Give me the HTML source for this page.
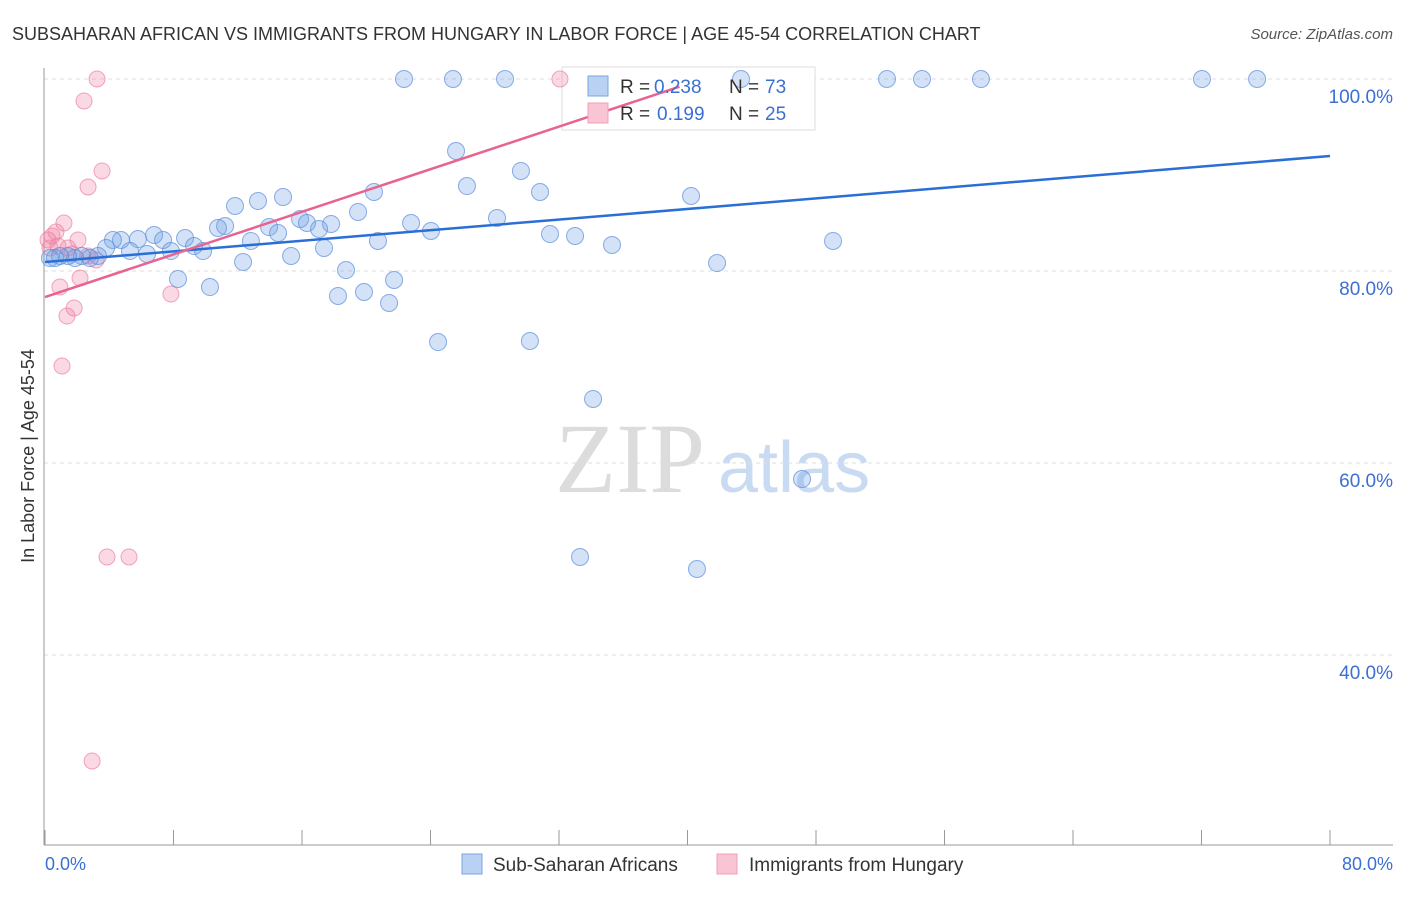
<!DOCTYPE html>
<html><head><meta charset="utf-8"><style>
body{margin:0;background:#fff;font-family:"Liberation Sans",sans-serif;}
</style></head><body>
<svg id="chart" width="1406" height="892" xmlns="http://www.w3.org/2000/svg" font-family="Liberation Sans, sans-serif">
<text x="12" y="40" font-size="18" fill="#333">SUBSAHARAN AFRICAN VS IMMIGRANTS FROM HUNGARY IN LABOR FORCE | AGE 45-54 CORRELATION CHART</text>
<text x="1393" y="39" font-size="15" fill="#555" text-anchor="end" font-style="italic">Source: ZipAtlas.com</text>
<g>
<text x="555" y="492" font-family="Liberation Serif, serif" font-size="100" fill="#dcdcdc">ZIP</text>
<text x="718" y="492" font-size="72" fill="#c9daf3">atlas</text>
</g>
<g id="grid"></g>
<line x1="44" y1="68" x2="44" y2="845" stroke="#999"/>
<line x1="44" y1="845" x2="1393" y2="845" stroke="#999"/>
<g id="ticks"></g>
<text transform="translate(34,456) rotate(-90)" font-size="18" fill="#333" text-anchor="middle">In Labor Force | Age 45-54</text>
<text x="45" y="870" font-size="18" fill="#3b6fd4">0.0%</text>
<text x="1393" y="870" font-size="18" fill="#3b6fd4" text-anchor="end">80.0%</text>
<g>
<rect x="562" y="67" width="253" height="63" fill="#fff" stroke="#ddd"/>
</g>
<g id="points"></g>
<g id="trends"></g>
<g>
<rect x="588" y="76" width="20" height="20" fill="#b9d1f3" stroke="#7aa5e0"/>
<text x="620" y="93" font-size="19" fill="#333">R =</text>
<text x="654" y="93" font-size="19" fill="#3b6fd4">0.238</text>
<text x="729" y="93" font-size="19" fill="#333">N =</text>
<text x="765" y="93" font-size="19" fill="#3b6fd4">73</text>
<rect x="588" y="103" width="20" height="20" fill="#f9c5d5" stroke="#f0a0b8"/>
<text x="620" y="120" font-size="19" fill="#333">R =</text>
<text x="657" y="120" font-size="19" fill="#3b6fd4">0.199</text>
<text x="729" y="120" font-size="19" fill="#333">N =</text>
<text x="765" y="120" font-size="19" fill="#3b6fd4">25</text>
</g>
<g>
<rect x="462" y="854" width="20" height="20" fill="#b9d1f3" stroke="#7aa5e0"/>
<text x="493" y="871" font-size="19" fill="#333">Sub-Saharan Africans</text>
<rect x="717" y="854" width="20" height="20" fill="#f9c5d5" stroke="#f0a0b8"/>
<text x="749" y="871" font-size="19" fill="#333">Immigrants from Hungary</text>
</g>
</svg>
<script>
const yTicks=[100,80,60,40];
const yTickLabels=["100.0%","80.0%","60.0%","40.0%"];
const xTicks=[0,8,16,24,32,40,48,56,64,72,80];
const bluePx=[[404,79],[453,79],[505,79],[741,79],[887,79],[922,79],[981,79],[1202,79],[1257,79],[456,151],[467,186],[521,171],[540,192],[374,192],[258,201],[283,197],[235,206],[691,196],[358,212],[300,219],[307,223],[331,224],[319,229],[269,227],[411,223],[497,218],[225,226],[218,228],[278,233],[251,241],[431,231],[378,241],[550,234],[575,236],[612,245],[833,241],[154,235],[138,239],[121,240],[113,240],[163,240],[185,238],[194,246],[203,251],[106,248],[130,251],[147,254],[171,251],[98,256],[90,258],[82,256],[75,258],[68,256],[60,256],[55,258],[50,258],[243,262],[291,256],[324,248],[346,270],[394,280],[178,279],[210,287],[338,296],[364,292],[389,303],[717,263],[438,342],[530,341],[593,399],[802,479],[580,557],[697,569]];
const pinkPx=[[97,79],[560,79],[84,101],[102,171],[88,187],[64,223],[56,232],[52,236],[48,240],[78,240],[68,248],[58,246],[72,254],[88,256],[96,260],[60,287],[74,308],[67,316],[80,278],[171,294],[62,366],[107,557],[129,557],[92,761],[50,248]];
const blueX=bluePx.map(p=>+((p[0]-45)/16.0625).toFixed(2));
const blueY=bluePx.map(p=>+(100-(p[1]-79)/9.6).toFixed(2));
const pinkX=pinkPx.map(p=>+((p[0]-45)/16.0625).toFixed(2));
const pinkY=pinkPx.map(p=>+(100-(p[1]-79)/9.6).toFixed(2));
const blueTrend=[[0,80.94],[80,91.98]];
const pinkTrend=[[0,77.29],[39.5,99.2]];
const sx=v=>45+v*16.0625, sy=v=>79+(100-v)*9.6;
const NS="http://www.w3.org/2000/svg";
function mk(t,a,p){const e=document.createElementNS(NS,t);for(const k in a)e.setAttribute(k,a[k]);p.appendChild(e);return e;}
const grid=document.getElementById('grid');
yTicks.forEach((v,i)=>{
 const l=mk('line',{x1:44,x2:1393,y1:sy(v),y2:sy(v),stroke:'#ddd','stroke-dasharray':'4,4'},grid);
 
 
 const t=mk('text',{x:1393,y:sy(v)+24,'font-size':19,fill:'#3b6fd4','text-anchor':'end'},grid);
 t.textContent=yTickLabels[i];
 
 
});
const ticks=document.getElementById('ticks');
xTicks.forEach(v=>{
 const l=mk('line',{x1:sx(v),x2:sx(v),y1:830,y2:845,stroke:'#999'},ticks);
 
 
});
const pts=document.getElementById('points');
pinkX.forEach((x,i)=>{
 const c=mk('circle',{cx:sx(x),cy:sy(pinkY[i]),r:8,fill:'rgba(240,130,165,0.3)',stroke:'rgba(235,130,160,0.7)'},pts);
 
 
});
blueX.forEach((x,i)=>{
 const c=mk('circle',{cx:sx(x),cy:sy(blueY[i]),r:8.5,fill:'rgba(110,160,230,0.3)',stroke:'rgba(90,140,220,0.7)'},pts);
 
 
});
const tr=document.getElementById('trends');
const bl=mk('line',{x1:sx(blueTrend[0][0]),y1:sy(blueTrend[0][1]),x2:sx(blueTrend[1][0]),y2:sy(blueTrend[1][1]),stroke:'#2a6fd6','stroke-width':2.5},tr);


const pl=mk('line',{x1:sx(pinkTrend[0][0]),y1:sy(pinkTrend[0][1]),x2:sx(pinkTrend[1][0]),y2:sy(pinkTrend[1][1]),stroke:'#e8648f','stroke-width':2.5},tr);


</script>
</body></html>
